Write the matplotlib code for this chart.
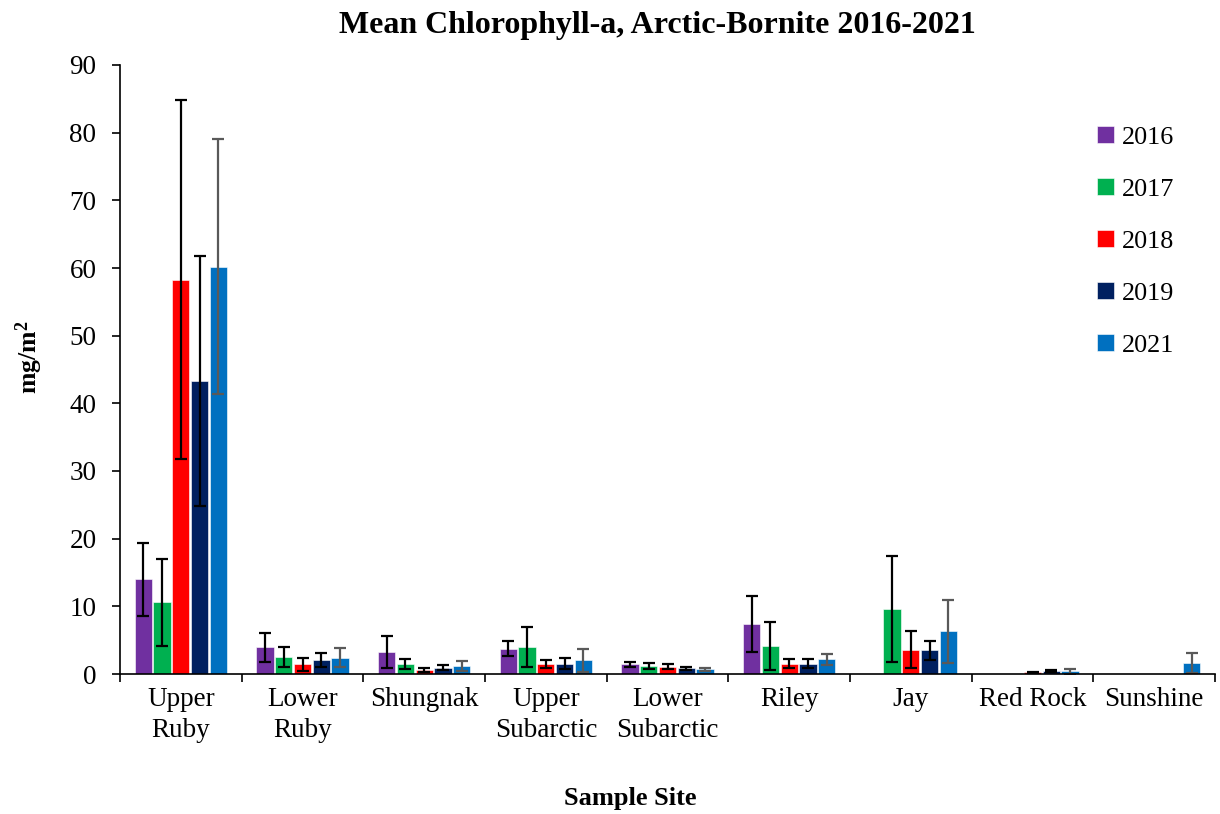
import numpy as np
import matplotlib
matplotlib.use("Agg")
import matplotlib.pyplot as plt

sites = ["Upper\nRuby", "Lower\nRuby", "Shungnak", "Upper\nSubarctic", "Lower\nSubarctic",
         "Riley", "Jay", "Red Rock", "Sunshine"]
years = ["2016", "2017", "2018", "2019", "2021"]
nan = np.nan
mean_2016 = [14.0, 3.95, 3.25, 3.75, 1.43, 7.4, nan, nan, nan]
mean_2017 = [10.6, 2.5, 1.5, 4.0, 1.18, 4.2, 9.6, nan, nan]
mean_2018 = [58.3, 1.43, 0.6, 1.43, 1.08, 1.55, 3.6, 0.25, nan]
mean_2019 = [43.3, 2.1, 0.95, 1.55, 0.84, 1.5, 3.5, 0.45, nan]
mean_2021 = [60.2, 2.4, 1.15, 2.0, 0.7, 2.2, 6.3, 0.4, 1.65]
err_2016 = [5.4, 2.15, 2.3, 1.15, 0.35, 4.15, nan, nan, nan]
err_2017 = [6.4, 1.5, 0.75, 2.9, 0.45, 3.55, 7.8, nan, nan]
err_2018 = [26.5, 0.95, 0.3, 0.6, 0.4, 0.72, 2.7, 0.05, nan]
err_2019 = [18.5, 1.0, 0.35, 0.85, 0.25, 0.68, 1.45, 0.1, nan]
err_2021 = [18.8, 1.4, 0.7, 1.65, 0.2, 0.8, 4.7, 0.35, 1.45]

means = [mean_2016, mean_2017, mean_2018, mean_2019, mean_2021]
errs = [err_2016, err_2017, err_2018, err_2019, err_2021]
colors = ["#7030A0", "#00B050", "#FF0000", "#002060", "#0070C0"]
ecolors = ["black", "black", "black", "black", "#595959"]

plt.rcParams['font.family'] = ['Liberation Serif', 'DejaVu Serif']
plt.rcParams['mathtext.fontset'] = 'custom'
plt.rcParams['mathtext.rm'] = 'Liberation Serif'
plt.rcParams['mathtext.bf'] = 'Liberation Serif:bold'

fig = plt.figure(figsize=(12.2, 8.14), dpi=100)
ax = fig.add_axes([120/1220, 1-674/814, (1215-120)/1220, (674-65)/814])

x = np.arange(len(sites))
step = 0.1537
width = 0.142
for i, (m, e, c, ec, y) in enumerate(zip(means, errs, colors, ecolors, years)):
    pos = x + (i - 2) * step
    ax.bar(pos, m, width=width, color=c, edgecolor="white", linewidth=0.4, label=y,
           yerr=e, error_kw=dict(ecolor=ec, elinewidth=1.6, capsize=4.3, capthick=1.6))

ax.set_xlim(-0.5, len(sites) - 0.5)
ax.set_ylim(0, 90)
ax.set_yticks(np.arange(0, 91, 10))
ax.set_xticks(x)
ax.set_xticklabels(sites, linespacing=1.32)
ax.set_xticks(np.arange(-0.5, len(sites), 1.0), minor=True)
ax.tick_params(axis='x', which='major', length=0, pad=9, labelsize=19.5)
ax.tick_params(axis='x', which='minor', length=6, width=1.2, direction='out')
ax.tick_params(axis='y', which='major', length=6, width=1.2, direction='out', labelsize=19.5, pad=11)
for s in ["top", "right"]:
    ax.spines[s].set_visible(False)
for s in ["left", "bottom"]:
    ax.spines[s].set_linewidth(1.2)

fig.text(657/1220, 1-25/814, "Mean Chlorophyll-a, Arctic-Bornite 2016-2021", fontsize=23,
         fontweight='bold', ha='center', va='center')
fig.text(29/1220, 1-357/814, "mg/m$\\mathbf{^2}$", fontsize=18.5, fontweight='bold',
         rotation=90, ha='center', va='center')
fig.text(630/1220, 1-798/814, "Sample Site", fontsize=19, fontweight='bold', ha='center', va='center')

leg = ax.legend(loc='upper left', frameon=False, fontsize=18.8, handlelength=0.62, handleheight=0.62,
                handletextpad=0.32, labelspacing=1.12, borderaxespad=0)
leg.set_bbox_to_anchor((1087/1220, 1-116/814), transform=fig.transFigure)

fig.savefig("out.png", dpi=100)
